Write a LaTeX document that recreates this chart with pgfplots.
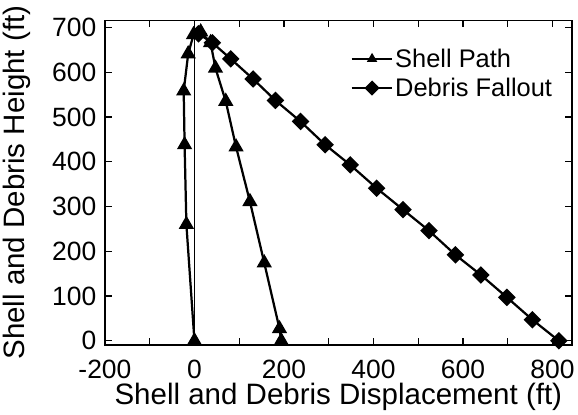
\documentclass[border=0pt]{standalone}
\usepackage{fontspec}
\setmainfont{Liberation Sans}
\usepackage{pgfplots}
\pgfplotsset{compat=1.18}
\newcommand\bigfont{\fontsize{29}{33}\selectfont}
\newcommand\tickfont{\fontsize{26}{30}\selectfont}
\newcommand\legfont{\fontsize{25}{30}\selectfont}

\begin{document}
\begin{tikzpicture}
\begin{axis}[
  scale only axis,
  width=459pt, height=319pt,
  xmin=-200, xmax=843, ymin=-9, ymax=716,
  xtick={-200,0,...,800},
  minor xtick={-100,100,...,700},
  ytick={0,100,...,700},
  tick align=inside,
  major tick length=7pt, minor tick length=7pt,
  every tick/.style={black, line width=1.2pt},
  axis line style={line width=1.5pt},
  /pgf/number format/assume math mode=true,
  tick label style={font=\tickfont},
  xticklabel style={yshift=-11pt},
  yticklabel style={xshift=-5pt},
  label style={font=\bigfont},
  xlabel={Shell and Debris Displacement (ft)},
  ylabel={Shell and Debris Height (ft)},
  xlabel style={yshift=2pt},
  ylabel style={yshift=14pt},
  legend style={draw=none, fill=none, at={(0.52,0.925)}, anchor=north west,
    font=\legfont, row sep=5pt},
  legend image code/.code={%
    \draw[mark repeat=2, mark phase=2, #1, mark size=4.5pt, line width=1.5pt]
      plot coordinates {(0pt,0pt) (20pt,0pt) (40pt,0pt)};},
  legend cell align=left,
  clip=false,
]
\addplot[black, line width=1.5pt, forget plot] coordinates {(0,0) (0,716)};
\addplot[black, line width=2.2pt, mark=triangle*, mark size=6.5pt,
  mark options={solid}] coordinates {
  (0,0) (-18,260) (-22,438) (-24,558) (-14,641) (-2,684) (14,690)
  (36,666) (47,609) (70,535) (93,433) (124,311) (156,174) (190,27) (194,0)
};
\addlegendentry{Shell Path}
\addplot[black, line width=2.2pt, mark=square*, mark size=5pt,
  mark options={rotate=45}] coordinates {
  (9,686) (40,666) (81,630) (131,585) (181,537) (237,490) (292,438)
  (348,393) (407,341) (466,293) (524,246) (583,192) (640,147) (698,97)
  (755,47) (814,0)
};
\addlegendentry{Debris Fallout}
\path (rel axis cs:1,1) ++(0pt,20pt);
\end{axis}
\end{tikzpicture}
\end{document}
